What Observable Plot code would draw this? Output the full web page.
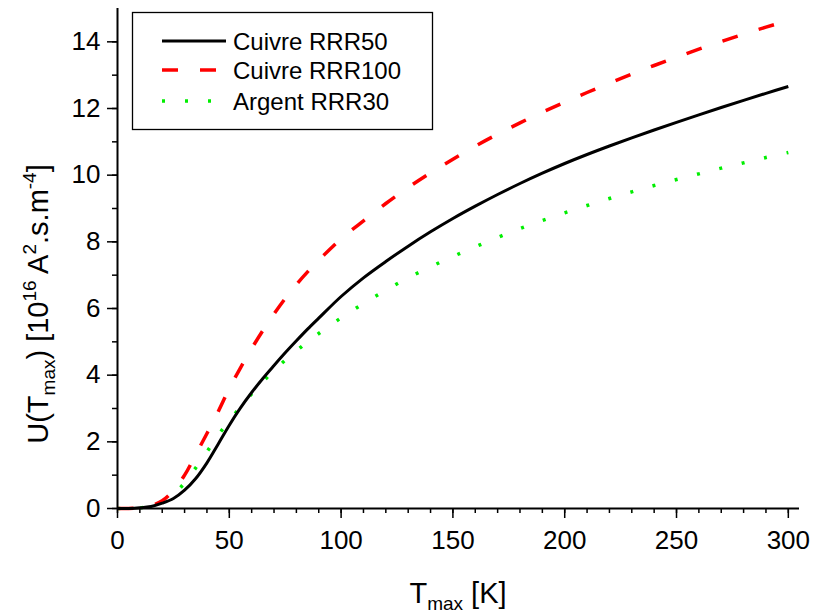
<!DOCTYPE html>
<html>
<head>
<meta charset="utf-8">
<script src="https://cdn.jsdelivr.net/npm/d3@7"></script>
<script src="https://cdn.jsdelivr.net/npm/@observablehq/plot@0.6"></script>
<style>
  body { margin: 0; background: #fff; }
  #chart svg { display: block; }
</style>
</head>
<body>
<div id="chart"></div>
<script>
// ---- data ----
const temperature = [0,5,10,15,20,25,30,35,40,45,50,55,60,65,70,75,80,85,90,100,110,120,130,140,150,160,170,180,190,200,210,220,230,240,250,260,270,280,290,300];
const cuivreRRR50 = [0,0,0.02,0.06,0.16,0.3,0.55,0.9,1.37,1.93,2.5,3.02,3.48,3.9,4.29,4.67,5.03,5.38,5.71,6.36,6.92,7.41,7.87,8.3,8.7,9.07,9.42,9.75,10.06,10.35,10.62,10.875,11.12,11.355,11.585,11.81,12.03,12.245,12.455,12.66];
const cuivreRRR100 = [0,0,0.02,0.08,0.23,0.54,1.0,1.62,2.25,2.9,3.6,4.22,4.8,5.34,5.84,6.3,6.72,7.1,7.45,8.09,8.63,9.15,9.63,10.07,10.48,10.87,11.23,11.57,11.89,12.19,12.48,12.76,13.03,13.29,13.54,13.78,14.01,14.23,14.44,14.64];
const argentRRR30 = [0,0,0.02,0.08,0.2,0.42,0.77,1.22,1.7,2.2,2.63,3.05,3.44,3.8,4.14,4.45,4.73,5.0,5.25,5.72,6.15,6.55,6.92,7.25,7.56,7.85,8.13,8.4,8.64,8.87,9.09,9.3,9.5,9.69,9.87,10.04,10.21,10.37,10.53,10.68];
const seriesNames = ["Cuivre RRR50", "Cuivre RRR100", "Argent RRR30"];
const xTickValues = [0, 50, 100, 150, 200, 250, 300];
const yTickValues = [0, 2, 4, 6, 8, 10, 12, 14];

// ---- build table ----
const seriesValues = [cuivreRRR50, cuivreRRR100, argentRRR30];
const rows = [];
seriesNames.forEach((name, i) => {
  temperature.forEach((t, j) => rows.push({series: name, T: t, U: seriesValues[i][j]}));
});
const styleOf = {
  "Cuivre RRR50": {stroke: "#000000", strokeWidth: 3, dash: null},
  "Cuivre RRR100": {stroke: "#ff0000", strokeWidth: 3.5, dash: "16 22"},
  "Argent RRR30": {stroke: "#00ee00", strokeWidth: 3.5, dash: "3 20"}
};
const xMinor = d3.range(0, 301, 10);
const yMinor = d3.range(0, 15, 1);
const font = "'Liberation Sans', Arial, Helvetica, sans-serif";

const lineMarks = seriesNames.slice().reverse().map(name =>
  Plot.line(rows.filter(d => d.series === name), {
    x: "T", y: "U",
    stroke: styleOf[name].stroke,
    strokeWidth: styleOf[name].strokeWidth,
    strokeDasharray: styleOf[name].dash,
    strokeLinecap: "butt",
    strokeLinejoin: "round",
    curve: "catmull-rom"
  })
);

const chart = Plot.plot({
  width: 815,
  height: 615,
  marginLeft: 117,
  marginRight: 16,
  marginTop: 8,
  marginBottom: 107,
  style: {fontFamily: font, fontSize: "26px", color: "#000", background: "#fff", overflow: "visible"},
  x: {domain: [0, 305], label: null},
  y: {domain: [0, 15], label: null},
  marks: [
    ...lineMarks,
    Plot.ruleX(xMinor, {y1: 0, y2: 0, insetBottom: -5, stroke: "#000", strokeWidth: 1.5}),
    Plot.ruleY(yMinor, {x1: 0, x2: 0, insetLeft: -5, stroke: "#000", strokeWidth: 1.5}),
    Plot.axisX(xTickValues, {tickSize: 10, tickPadding: 12, strokeWidth: 1.5, label: null, fontSize: 26, fill: "#000"}),
    Plot.axisY(yTickValues, {tickSize: 10, tickPadding: 7, strokeWidth: 1.5, label: null, fontSize: 26, fill: "#000"}),
    Plot.ruleY([0], {stroke: "#000", strokeWidth: 2}),
    Plot.ruleX([0], {stroke: "#000", strokeWidth: 2})
  ]
});
document.getElementById("chart").appendChild(chart);

// ---- titles & legend ----
const svg = d3.select(chart);

const xt = svg.append("text")
  .attr("x", 458).attr("y", 603)
  .attr("text-anchor", "middle")
  .attr("font-family", font).attr("font-size", 29).attr("fill", "#000");
xt.append("tspan").text("T");
xt.append("tspan").attr("font-size", 19).attr("dy", 7).text("max");
xt.append("tspan").attr("dy", -7).text(" [K]");

const yt = svg.append("text")
  .attr("transform", "translate(48,304) rotate(-90)")
  .attr("text-anchor", "middle")
  .attr("font-family", font).attr("font-size", 29).attr("fill", "#000");
yt.append("tspan").text("U(T");
yt.append("tspan").attr("font-size", 19).attr("dy", 7).text("max");
yt.append("tspan").attr("dy", -7).text(") [10");
yt.append("tspan").attr("font-size", 19).attr("dy", -12).text("16");
yt.append("tspan").attr("dy", 12).text(" A");
yt.append("tspan").attr("font-size", 19).attr("dy", -12).text("2");
yt.append("tspan").attr("dy", 12).text(".s.m");
yt.append("tspan").attr("font-size", 19).attr("dy", -12).text("-4");
yt.append("tspan").attr("dy", 12).text("]");

const legend = svg.append("g");
legend.append("rect")
  .attr("x", 132.5).attr("y", 12.5).attr("width", 300).attr("height", 117)
  .attr("fill", "#fff").attr("stroke", "#000").attr("stroke-width", 1.3);
const rowY = [41, 70, 101];
seriesNames.forEach((name, i) => {
  const s = styleOf[name];
  legend.append("line")
    .attr("x1", 162).attr("x2", 226).attr("y1", rowY[i]).attr("y2", rowY[i])
    .attr("stroke", s.stroke).attr("stroke-width", s.strokeWidth)
    .attr("stroke-dasharray", s.dash);
  legend.append("text")
    .attr("x", 233).attr("y", rowY[i] + 8.5)
    .attr("text-anchor", "start")
    .attr("font-family", font).attr("font-size", 24).attr("fill", "#000")
    .text(name);
});
</script>
</body>
</html>
